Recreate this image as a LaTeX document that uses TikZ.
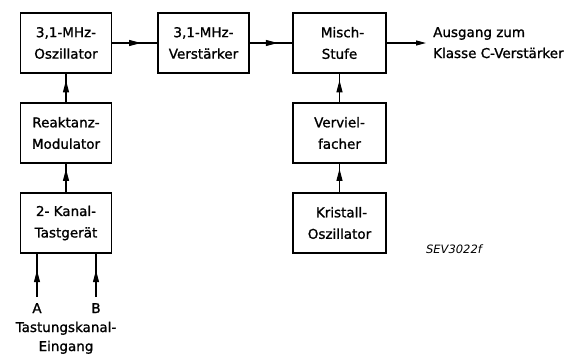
\documentclass[tikz,border=0pt]{standalone}
\usepackage{fontspec}
\setmainfont{DejaVu Sans}
\newfontfamily\dinfont[FakeBold=1.2]{DejaVu Sans}
\usetikzlibrary{arrows.meta,decorations.markings}
\tikzset{
  blk/.style={draw, line width=1.5pt, minimum width=91pt, minimum height=60pt, inner sep=0pt,
    align=center, font=\dinfont\fontsize{13.5}{21.5}\selectfont},
  conn/.style={line width=1.1pt},
  tipat/.style={postaction={decorate}, decoration={markings,
    mark=at position #1 with {\arrow{Triangle[length=12pt,width=6pt]}}}},
  lbl/.style={font=\dinfont\fontsize{13.5}{19}\selectfont, inner sep=0pt},
}
\begin{document}
\begin{tikzpicture}[x=1pt,y=-1pt]
\useasboundingbox (0,0) rectangle (587,354);
\node[blk] (osc) at (66,43) {3,1-MHz-\\Oszillator};
\node[blk] (amp) at (203.5,43) {3,1-MHz-\\Verstärker};
\node[blk, minimum width=93pt] (mix) at (339.5,43) {\hspace*{6pt}Misch-\\Stufe};
\node[blk] (mod) at (66,133) {Reaktanz-\\Modulator};
\node[blk] (tast) at (66,223) {2- Kanal-\\Tastgerät};
\node[blk, minimum width=93pt] (mul) at (339.5,133) {Verviel-\\facher};
\node[blk, minimum width=93pt] (kris) at (339.5,223) {\hspace*{4pt}Kristall-\\Oszillator};

\draw[conn, tipat=0.64] (osc.east) -- (amp.west);
\draw[conn, tipat=0.66] (amp.east) -- (mix.west);
\draw[conn, tipat=0.77] (mod.north) -- (osc.south);
\draw[conn, tipat=0.82] (tast.north) -- (mod.south);
\draw[conn, tipat=0.77] (mul.north) -- (mix.south);
\draw[conn, tipat=0.82] (kris.north) -- (mul.south);

\coordinate (out) at (426,43);
\draw[conn, -{Triangle[length=10pt,width=5pt]}] (mix.east) -- (out);
\node[lbl, anchor=base west] (ausg) at (433,37) {Ausgang zum};
\node[lbl, anchor=base west] (klas) at (433,58) {Klasse C-Verstärker};

\coordinate (ta) at ([xshift=-29pt]tast.south);
\coordinate (tb) at ([xshift=30pt]tast.south);
\coordinate (ia) at (37,297);
\coordinate (ib) at (96,297);
\draw[conn, tipat=0.62] (ia) -- (ta);
\draw[conn, tipat=0.62] (ib) -- (tb);
\node[lbl, anchor=base] (la) at (37,313) {A};
\node[lbl, anchor=base] (lb) at (96,313) {B};
\node[lbl, anchor=base] (tk) at (66,332) {Tastungskanal-};
\node[lbl, anchor=base] (ein) at (66,351) {Eingang};

\node[anchor=base, inner sep=0pt, font=\fontsize{11.5}{14}\selectfont\itshape] (sev) at (454,253) {SEV3022f};
\end{tikzpicture}
\end{document}
